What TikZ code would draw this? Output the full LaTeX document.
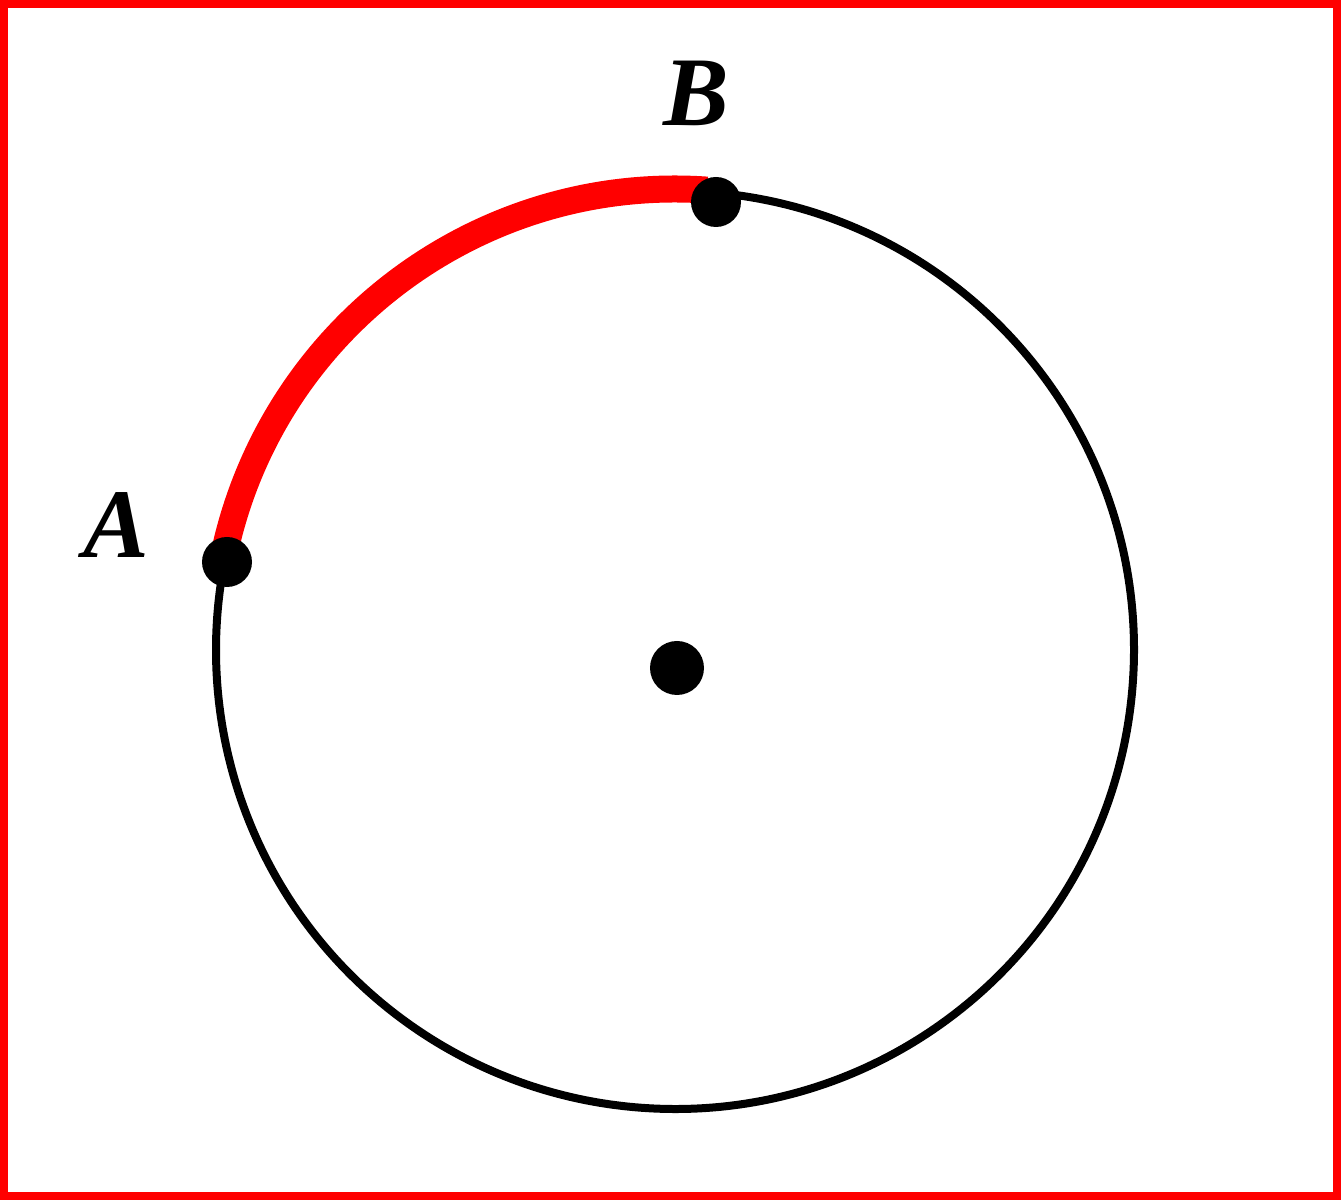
\documentclass[tikz,border=0pt]{standalone}
\usepackage{fontspec}
\setmainfont{Liberation Serif}
\usepackage{tikz}

\begin{document}
\begin{tikzpicture}[line width=0.08cm]
\tikzstyle{pt}=[circle,fill=black,inner sep=0pt,minimum size=0.5cm]
\tikzstyle{lbl}=[font=\fontsize{28}{30}\selectfont\bfseries\itshape,inner sep=0pt]
\useasboundingbox (0,0) rectangle (13.41,12);
\draw[red] (0.04,0.04) rectangle (13.37,11.96);
\coordinate (O) at (6.75,5.50);
\coordinate (A) at (2.27,6.38);
\coordinate (B) at (7.16,9.98);
% circle from B round to A, then the highlighted arc from A to B
\draw ([shift={(85:4.59)}]O) arc (85:-191:4.59);
\draw[red,line width=0.27cm] ([shift={(168.8:4.61)}]O) arc (168.8:86:4.61);
\node[pt] (a) at (A) {};
\node[pt] (b) at (B) {};
\node[pt,minimum size=0.54cm] (C) at (6.77,5.32) {};
\node[lbl] (la) at (1.16,6.75) {A};
\node[lbl] (lb) at (6.96,11.07) {B};
\end{tikzpicture}
\end{document}
